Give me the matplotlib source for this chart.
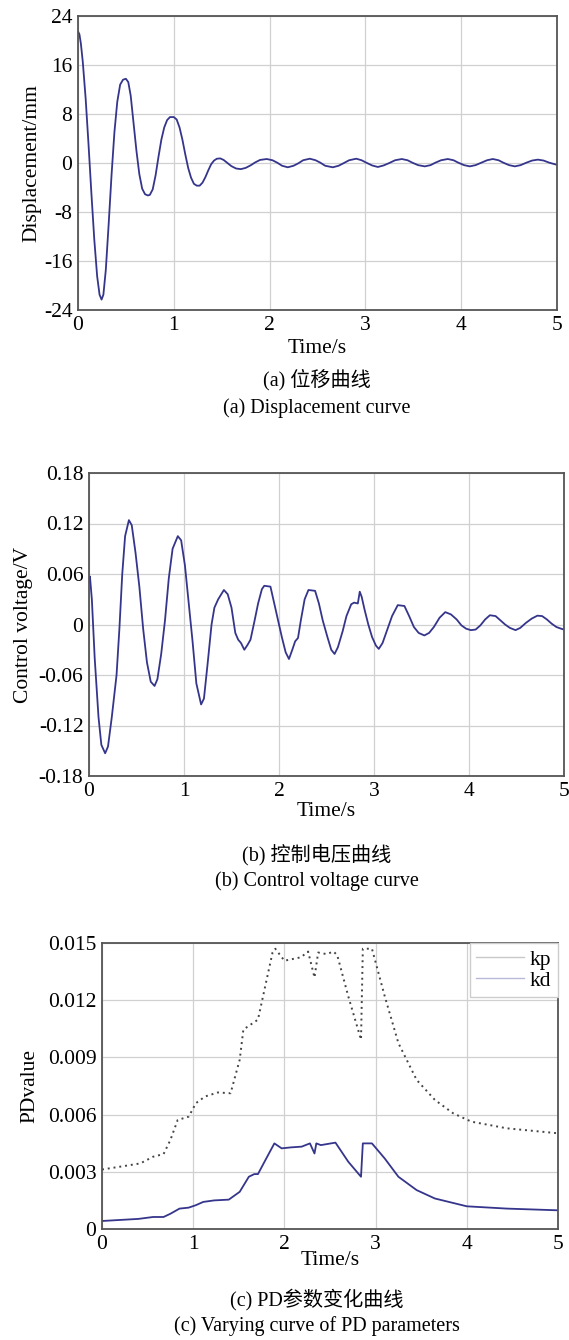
import matplotlib
matplotlib.use("Agg")
import matplotlib.pyplot as plt
from matplotlib.lines import Line2D

plt.rcParams['font.family'] = ['Liberation Serif', 'Noto Sans CJK SC', 'DejaVu Sans']

# (a) displacement
t_disp = [0.00, 0.015, 0.03, 0.05, 0.08, 0.11, 0.14, 0.17, 0.20, 0.225, 0.246, 0.265, 0.29, 0.32,
          0.35, 0.38, 0.41, 0.44, 0.47, 0.50, 0.525, 0.55, 0.58, 0.61, 0.64, 0.67, 0.70, 0.73,
          0.75, 0.78, 0.81, 0.84, 0.87, 0.90, 0.93, 0.96, 1.00, 1.03, 1.06, 1.09, 1.12, 1.15,
          1.18, 1.21, 1.24, 1.27, 1.30, 1.33, 1.36, 1.39, 1.42, 1.45, 1.485, 1.52, 1.56, 1.60,
          1.65, 1.70, 1.75, 1.80, 1.85, 1.90, 1.97, 2.03, 2.08, 2.13, 2.19, 2.25, 2.30, 2.35,
          2.42, 2.48, 2.53, 2.58, 2.66, 2.72, 2.77, 2.83, 2.905, 2.96, 3.01, 3.07, 3.13, 3.19,
          3.25, 3.31, 3.38, 3.44, 3.49, 3.55, 3.62, 3.68, 3.73, 3.79, 3.86, 3.92, 3.97, 4.03,
          4.09, 4.15, 4.21, 4.27, 4.33, 4.39, 4.44, 4.50, 4.56, 4.62, 4.68, 4.74, 4.80, 4.86,
          4.92, 5.00]
disp = [21.5, 21.0, 19.5, 16.5, 10.5, 3.0, -5.0, -12.5, -18.5, -21.5, -22.3, -21.5, -17.5, -10.0,
        -2.0, 5.0, 10.0, 12.8, 13.6, 13.75, 13.2, 11.0, 6.5, 2.0, -1.8, -4.2, -5.1, -5.3,
        -5.2, -4.3, -2.0, 1.0, 3.8, 5.8, 7.0, 7.5, 7.5, 7.1, 5.8, 3.8, 1.4, -0.8,
        -2.4, -3.4, -3.7, -3.7, -3.2, -2.3, -1.2, -0.2, 0.4, 0.7, 0.75, 0.5, 0.0, -0.5,
        -0.9, -1.0, -0.8, -0.4, 0.1, 0.5, 0.65, 0.45, 0.05, -0.45, -0.7, -0.45, -0.05, 0.45,
        0.7, 0.45, 0.05, -0.45, -0.7, -0.45, -0.05, 0.45, 0.7, 0.45, 0.05, -0.4, -0.65, -0.4,
        0.0, 0.45, 0.65, 0.45, 0.05, -0.35, -0.55, -0.35, 0.05, 0.45, 0.65, 0.45, 0.05, -0.35,
        -0.55, -0.35, 0.05, 0.45, 0.65, 0.45, 0.05, -0.35, -0.55, -0.35, 0.05, 0.4, 0.55, 0.4,
        0.05, -0.3]

# (b) control voltage
t_volt = [0.00, 0.01, 0.03, 0.06, 0.10, 0.13, 0.17, 0.20, 0.24, 0.29, 0.32, 0.35, 0.38, 0.42,
          0.45, 0.49, 0.53, 0.57, 0.61, 0.65, 0.69, 0.72, 0.76, 0.80, 0.84, 0.88, 0.935, 0.97,
          1.01, 1.05, 1.09, 1.13, 1.18, 1.21, 1.25, 1.29, 1.32, 1.36, 1.42, 1.46, 1.50, 1.54,
          1.57, 1.60, 1.635, 1.67, 1.70, 1.74, 1.78, 1.82, 1.845, 1.91, 1.95, 1.99, 2.03, 2.07,
          2.105, 2.14, 2.17, 2.20, 2.23, 2.27, 2.31, 2.38, 2.42, 2.46, 2.51, 2.55, 2.585, 2.62,
          2.67, 2.71, 2.76, 2.79, 2.83, 2.85, 2.87, 2.90, 2.94, 2.98, 3.02, 3.05, 3.09, 3.14,
          3.19, 3.25, 3.32, 3.37, 3.42, 3.47, 3.53, 3.58, 3.63, 3.69, 3.75, 3.81, 3.87, 3.92,
          3.97, 4.02, 4.07, 4.12, 4.17, 4.22, 4.28, 4.33, 4.38, 4.43, 4.49, 4.54, 4.60, 4.66,
          4.72, 4.77, 4.82, 4.87, 4.92, 4.97, 5.00]
volt = [0.050, 0.057, 0.030, -0.040, -0.110, -0.143, -0.153, -0.145, -0.110, -0.060, -0.005, 0.060, 0.105, 0.124,
        0.118, 0.085, 0.045, -0.005, -0.045, -0.068, -0.073, -0.065, -0.035, 0.005, 0.055, 0.090, 0.105, 0.100,
        0.070, 0.025, -0.020, -0.070, -0.095, -0.088, -0.045, 0.000, 0.020, 0.030, 0.041, 0.036, 0.020, -0.010,
        -0.018, -0.022, -0.030, -0.024, -0.018, 0.003, 0.025, 0.042, 0.046, 0.045, 0.025, 0.005, -0.015, -0.033,
        -0.041, -0.030, -0.020, -0.016, 0.005, 0.030, 0.041, 0.040, 0.025, 0.005, -0.015, -0.030, -0.035, -0.027,
        -0.008, 0.010, 0.024, 0.026, 0.025, 0.039, 0.033, 0.018, 0.000, -0.015, -0.025, -0.029, -0.022, -0.006,
        0.010, 0.023, 0.022, 0.010, -0.003, -0.010, -0.013, -0.010, -0.003, 0.008, 0.0147, 0.012, 0.006, -0.001,
        -0.005, -0.0067, -0.006, -0.001, 0.006, 0.011, 0.010, 0.005, 0.000, -0.004, -0.0067, -0.004, 0.002, 0.007,
        0.0105, 0.010, 0.006, 0.001, -0.003, -0.005, -0.006]

# (c) PD parameters
t_kp = [0.00, 0.24, 0.42, 0.56, 0.675, 0.75, 0.83, 0.95, 1.03, 1.13, 1.27, 1.41, 1.51, 1.55,
        1.63, 1.71, 1.79, 1.87, 1.90, 2.00, 2.18, 2.26, 2.33, 2.37, 2.46, 2.54, 2.58, 2.70,
        2.84, 2.86, 2.96, 3.10, 3.25, 3.45, 3.65, 3.85, 4.05, 4.44, 5.00]
kp = [0.00312, 0.0033, 0.00344, 0.00379, 0.00393, 0.00467, 0.00572, 0.00589, 0.0066, 0.00695, 0.00716,
      0.00712, 0.00888, 0.01046, 0.01072, 0.01098, 0.01274, 0.0145, 0.0147, 0.01407, 0.01425, 0.01455,
      0.01319, 0.0145, 0.01442, 0.01455, 0.01435, 0.01221, 0.00993, 0.0147, 0.0147, 0.01221, 0.00975,
      0.00782, 0.00677, 0.00607, 0.00563, 0.00528, 0.00502]
t_kd = [0.00, 0.40, 0.56, 0.675, 0.75, 0.85, 0.95, 1.03, 1.11, 1.23, 1.39, 1.51, 1.61, 1.67,
        1.71, 1.79, 1.89, 1.97, 2.07, 2.19, 2.28, 2.33, 2.35, 2.40, 2.56, 2.70, 2.84, 2.86,
        2.96, 3.10, 3.25, 3.45, 3.65, 4.00, 4.44, 5.00]
kd = [0.00042, 0.00053, 0.00063, 0.00063, 0.0008, 0.00107, 0.00112, 0.00125, 0.00142, 0.0015, 0.00154,
      0.00195, 0.00274, 0.00288, 0.00288, 0.0036, 0.00449, 0.00423, 0.00428, 0.00432, 0.00449, 0.00396,
      0.00449, 0.0044, 0.00453, 0.00353, 0.00274, 0.00449, 0.00449, 0.0037, 0.00274, 0.00204, 0.0016,
      0.00119, 0.00107, 0.00098]

line_col = '#35358c'
W, H = 569, 1340
FS = 15.5


def style(ax, yticks, ylabels, xpad):
    ax.set_xlim(0, 5)
    ax.set_xticks(range(6))
    ax.set_ylim(yticks[0], yticks[-1])
    ax.set_yticks(yticks)
    ax.set_yticklabels(ylabels)
    ax.grid(True, color='#d0d0d0', lw=0.9)
    ax.tick_params(length=0, labelsize=FS, pad=4)
    for s in ax.spines.values():
        s.set_color('#555555')
        s.set_linewidth(1.3)
    ax.set_xlabel('Time/s', fontsize=FS, labelpad=xpad)


fig = plt.figure(figsize=(W / 100, H / 100), dpi=100)

# (a)
ax1 = fig.add_axes([78 / W, 1 - 310 / H, 479 / W, 294 / H])
ax1.plot(t_disp, disp, color=line_col, lw=1.3)
style(ax1, [-24, -16, -8, 0, 8, 16, 24], ['-24', '-16', '-8', '0', '8', '16', '24'], 3)
ax1.set_ylabel('Displacement/mm', fontsize=FS, labelpad=2)

# (b)
ax2 = fig.add_axes([89 / W, 1 - 776 / H, 475 / W, 303 / H])
ax2.plot(t_volt, volt, color=line_col, lw=1.3)
style(ax2, [-0.18, -0.12, -0.06, 0, 0.06, 0.12, 0.18],
      ['-0.18', '-0.12', '-0.06', '0', '0.06', '0.12', '0.18'], 1)
ax2.set_ylabel('Control voltage/V', fontsize=FS, labelpad=4)

# (c)
ax3 = fig.add_axes([102 / W, 1 - 1229 / H, 456 / W, 286 / H])
ax3.plot(t_kp, kp, color='#444444', lw=1.4, ls=(0, (1, 2)))
ax3.plot(t_kd, kd, color=line_col, lw=1.3)
style(ax3, [0, 0.003, 0.006, 0.009, 0.012, 0.015],
      ['0', '0.003', '0.006', '0.009', '0.012', '0.015'], -2)
ax3.set_ylabel('PDvalue', fontsize=FS, labelpad=6)
handles = [Line2D([], [], color='#c8c8c8', lw=1), Line2D([], [], color='#b8b8d8', lw=1)]
leg = ax3.legend(handles, ['kp', 'kd'], loc='upper right', fontsize=FS, fancybox=False,
                 borderaxespad=0, framealpha=1, handlelength=2.2, handletextpad=0.3,
                 labelspacing=0.05, borderpad=0.3)
leg.get_frame().set_edgecolor('#cccccc')
leg.get_frame().set_linewidth(1.0)

# captions
caps = [(380, '(a) 位移曲线'), (408, '(a) Displacement curve'),
        (855, '(b) 控制电压曲线'), (881, '(b) Control voltage curve'),
        (1300, '(c) PD参数变化曲线'), (1326, '(c) Varying curve of PD parameters')]
for y, s in caps:
    fig.text(317 / W, 1 - y / H, s, ha='center', va='center', fontsize=14.5)

fig.savefig('out.png', dpi=100)
